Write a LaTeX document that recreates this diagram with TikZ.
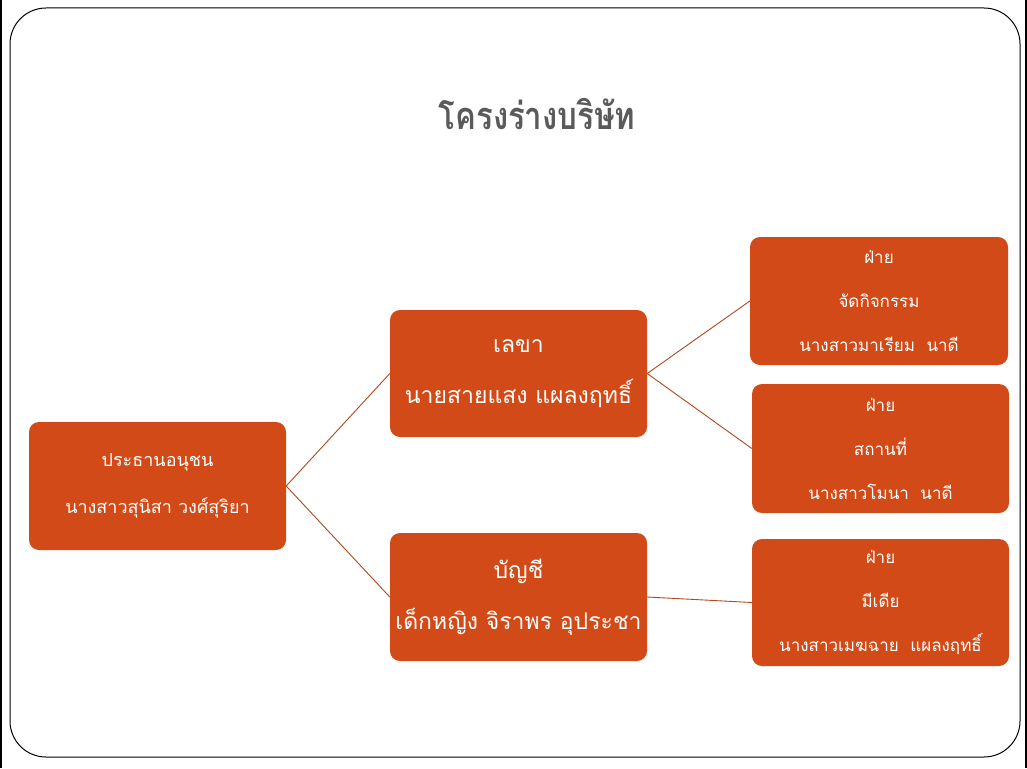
\documentclass[tikz,border=0pt]{standalone}
\usepackage{fontspec}
\newfontfamily\thaifont[Script=Thai]{Loma}
\definecolor{boxfill}{HTML}{D14A17}
\definecolor{linkcol}{HTML}{B5461C}
\definecolor{titlegray}{HTML}{5A5A5A}
\begin{document}
\begin{tikzpicture}[x=1pt,y=-1pt,
  orgbox/.style={draw=none,fill=boxfill,rounded corners=10pt,text=white,align=center,inner sep=0pt},
  bigtxt/.style={font={\thaifont\fontsize{23}{51}\selectfont}},
  smalltxt/.style={font={\thaifont\fontsize{18}{47}\selectfont}},
  sidetxt/.style={font={\thaifont\fontsize{17}{44}\selectfont}},
  link/.style={draw=linkcol,line width=0.9pt}]
\useasboundingbox (0,0) rectangle (1027,768);
\fill[white] (0,0) rectangle (1027,768);
\draw[line width=2pt] (1,0) -- (1,768);
\draw[line width=2pt] (1026,0) -- (1026,768);
\draw[line width=1pt,rounded corners=36pt] (10,8) rectangle (1020,757);
\node[text=titlegray,font={\thaifont\bfseries\fontsize{38}{44}\selectfont}] (title) at (537,114) {\scalebox{0.82}[1]{โครงร่างบริษัท}};
\node[orgbox,smalltxt,minimum width=257pt,minimum height=128pt] (a) at (157.5,486) {ประธานอนุชน\\นางสาวสุนิสา วงศ์สุริยา};
\node[orgbox,bigtxt,minimum width=257pt,minimum height=127pt] (b) at (518.5,373.5) {เลขา\\นายสายแสง แผลงฤทธิ์};
\node[orgbox,bigtxt,minimum width=257pt,minimum height=128pt] (c) at (518.5,597) {บัญชี\\เด็กหญิง จิราพร อุประชา};
\node[orgbox,sidetxt,minimum width=258pt,minimum height=128pt] (d) at (879,301) {ฝ่าย\\จัดกิจกรรม\\นางสาวมาเรียม\ \ นาดี};
\node[orgbox,sidetxt,minimum width=257pt,minimum height=129pt] (e) at (880.5,448.5) {ฝ่าย\\สถานที่\\นางสาวโมนา\ \ นาดี};
\node[orgbox,sidetxt,minimum width=257pt,minimum height=127pt] (f) at (880.5,602.5) {ฝ่าย\\มีเดีย\\นางสาวเมฆฉาย\ \ แผลงฤทธิ์};
\draw[link] (a.east) -- (b.west);
\draw[link] (a.east) -- (c.west);
\draw[link] (b.east) -- (d.west);
\draw[link] (b.east) -- (e.west);
\draw[link] (c.east) -- (f.west);
\end{tikzpicture}
\end{document}
